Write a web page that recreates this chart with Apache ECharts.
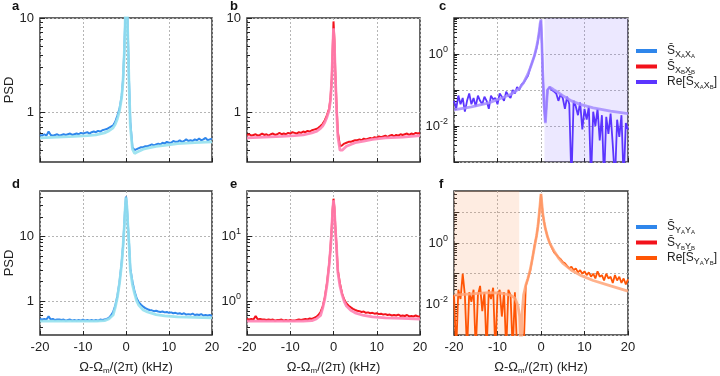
<!DOCTYPE html>
<html>
<head>
<meta charset="utf-8">
<script src="https://cdn.jsdelivr.net/npm/echarts@6/dist/echarts.min.js"></script>
<style>
  html, body { margin: 0; background: #fff; }
  #chart { width: 720px; height: 376px; }
</style>
</head>
<body>
<div id="chart"></div>
<script>
// frequency offsets (kHz) of the measured spectra
const xData = [
  -20, -19.5, -19, -18.5, -18, -17.5, -17, -16.5, -16, -15.5, -15, -14.5, -14, -13.5, -13, -12.5, -12, -11.5,
  -11, -10.5, -10, -9.5, -9, -8.5, -8, -7.5, -7, -6.5, -6, -5.5, -5, -4.5, -4, -3.5, -3,
  -2.5, -2, -1.5, -1, -0.7, -0.4, -0.2, 0, 0.2, 0.4, 0.7, 1, 1.5, 2, 2.5,
  3, 3.5, 4, 4.5, 5, 5.5, 6, 6.5, 7, 7.5, 8, 8.5, 9, 9.5, 10, 10.5, 11, 11.5, 12, 12.5,
  13, 13.5, 14, 14.5, 15, 15.5, 16, 16.5, 17, 17.5, 18, 18.5, 19, 19.5, 20
];
// frequency offsets (kHz) of the model curves
const xFit = [-20, -16, -12, -9, -7, -5, -4, -3, -2.5, -2, -1.5, -1, -0.7, -0.4, -0.2, 0, 0.2, 0.4, 0.7, 1, 1.5, 2, 2.5, 3, 4, 5, 7, 9, 12, 16, 20];
const xFitF = [-20, -16, -12, -9, -7, -6, -5.3, -4.9, -4.6, -4.3, -4, -3.5, -3, -2.5, -2, -1.5, -1, -0.7, -0.4, -0.2, 0, 0.2, 0.4, 0.7, 1, 1.5, 2, 3, 4, 5, 7, 9, 12, 16, 20];

// a: S_XAXA
const psdXAXA = [
  0.58, 0.57, 0.59, 0.57, 0.63, 0.58, 0.57, 0.58, 0.59, 0.57, 0.58, 0.59, 0.58, 0.59, 0.60, 0.58, 0.59, 0.60,
  0.59, 0.61, 0.60, 0.61, 0.62, 0.60, 0.62, 0.63, 0.62, 0.64, 0.63, 0.65, 0.66, 0.67, 0.69, 0.71, 0.73,
  0.8, 0.93, 1.1, 1.5, 2.2, 4.5, 9, 30, 18, 8, 2.2, 0.8, 0.43, 0.40, 0.41,
  0.42, 0.43, 0.43, 0.44, 0.44, 0.45, 0.46, 0.45, 0.46, 0.47, 0.46, 0.48, 0.47, 0.49, 0.48, 0.48, 0.50, 0.49, 0.49, 0.51,
  0.49, 0.50, 0.52, 0.50, 0.51, 0.50, 0.52, 0.51, 0.53, 0.51, 0.52, 0.54, 0.51, 0.52, 0.53
];
const fitXAXA = [0.54, 0.55, 0.56, 0.57, 0.58, 0.61, 0.64, 0.69, 0.75, 0.86, 1.05, 1.45, 2.1, 4.2, 8.5, 30, 16, 7, 2, 0.72, 0.41, 0.37, 0.38, 0.39, 0.41, 0.42, 0.44, 0.45, 0.47, 0.48, 0.49];

// b: S_XBXB
const psdXBXB = [
  0.58, 0.59, 0.57, 0.58, 0.59, 0.57, 0.58, 0.60, 0.58, 0.59, 0.57, 0.59, 0.60, 0.58, 0.59, 0.61, 0.59, 0.60,
  0.59, 0.61, 0.60, 0.62, 0.61, 0.60, 0.62, 0.61, 0.63, 0.62, 0.64, 0.63, 0.65, 0.66, 0.67, 0.69, 0.72,
  0.76, 0.83, 0.94, 1.1, 1.4, 2.3, 4.5, 9.2, 6, 2.8, 1.2, 0.62, 0.44, 0.45, 0.47,
  0.48, 0.49, 0.49, 0.50, 0.51, 0.51, 0.52, 0.51, 0.53, 0.52, 0.53, 0.54, 0.53, 0.55, 0.54, 0.56, 0.55, 0.56, 0.57, 0.55,
  0.57, 0.58, 0.56, 0.58, 0.57, 0.59, 0.58, 0.59, 0.60, 0.58, 0.60, 0.59, 0.61, 0.60, 0.61
];
const fitXBXB = [0.54, 0.55, 0.56, 0.57, 0.58, 0.61, 0.63, 0.68, 0.72, 0.79, 0.9, 1.06, 1.35, 2.2, 4.2, 7.8, 5.3, 2.6, 1.1, 0.56, 0.40, 0.40, 0.42, 0.44, 0.46, 0.48, 0.50, 0.52, 0.54, 0.55, 0.57];

// c: Re[S_XAXB]  (values below 1e-3 stand for negative points)
const psdReX = [
  0.05, 0.03, 0.07, 0.04, 0.06, 0.025, 0.05, 0.08, 0.04, 0.06, 0.035, 0.07, 0.05, 0.04, 0.065, 0.05, 0.03, 0.07,
  0.055, 0.06, 0.04, 0.08, 0.065, 0.05, 0.09, 0.07, 0.06, 0.1, 0.08, 0.12, 0.1, 0.14, 0.16, 0.2, 0.25,
  0.4, 0.6, 0.9, 1.5, 2.3, 4, 6.5, 8.5, 2, 0.3, 0.04, 0.013, 0.1, 0.12, 0.1,
  0.09, 0.08, 0.05, 0.075, 0.06, 0.03, 0.065, 0.04, 0.0003, 0.05, 0.035, 0.02, 0.045, 0.008, 0.03, 0.015, 0.035, 0.0003, 0.025, 0.01,
  0.03, 0.004, 0.02, 0.0003, 0.018, 0.006, 0.022, 0.003, 0.0003, 0.015, 0.005, 0.02, 0.0003, 0.012, 0.008
];
const fitReX = [0.028, 0.034, 0.044, 0.06, 0.075, 0.11, 0.16, 0.28, 0.4, 0.6, 0.9, 1.6, 2.5, 4.3, 7, 9, 2, 0.3, 0.04, 0.012, 0.1, 0.12, 0.11, 0.1, 0.085, 0.07, 0.05, 0.04, 0.032, 0.026, 0.022];

// d: S_YAYA
const psdYAYA = [
  0.53, 0.52, 0.53, 0.52, 0.58, 0.52, 0.53, 0.51, 0.52, 0.52, 0.51, 0.52, 0.50, 0.51, 0.52, 0.50, 0.51, 0.50,
  0.51, 0.50, 0.52, 0.50, 0.51, 0.50, 0.51, 0.50, 0.51, 0.50, 0.52, 0.51, 0.52, 0.53, 0.55, 0.6, 0.68,
  0.85, 1.2, 2, 4, 7, 15, 28, 41, 30, 17, 8, 3.2, 2, 1.4, 1.1,
  0.95, 0.88, 0.82, 0.78, 0.75, 0.73, 0.72, 0.70, 0.71, 0.69, 0.68, 0.69, 0.67, 0.68, 0.66, 0.67, 0.65, 0.66, 0.64, 0.65,
  0.63, 0.65, 0.62, 0.63, 0.62, 0.64, 0.61, 0.62, 0.61, 0.63, 0.60, 0.61, 0.60, 0.61, 0.59
];
const fitYAYA = [0.49, 0.49, 0.49, 0.49, 0.49, 0.5, 0.53, 0.61, 0.8, 1.15, 1.9, 3.8, 6.8, 14, 26, 40, 29, 16, 7.5, 3.0, 1.8, 1.3, 1.0, 0.86, 0.73, 0.68, 0.62, 0.59, 0.57, 0.56, 0.55];

// e: S_YBYB
const psdYBYB = [
  0.53, 0.52, 0.53, 0.52, 0.59, 0.52, 0.53, 0.52, 0.52, 0.51, 0.52, 0.51, 0.52, 0.50, 0.51, 0.51, 0.52, 0.50,
  0.51, 0.50, 0.51, 0.50, 0.50, 0.51, 0.52, 0.51, 0.52, 0.53, 0.52, 0.54, 0.53, 0.55, 0.57, 0.61, 0.68,
  0.82, 1.15, 1.9, 3.8, 6.5, 14, 26, 38, 28, 15, 7, 3, 1.85, 1.3, 1.05,
  0.92, 0.85, 0.80, 0.76, 0.73, 0.71, 0.70, 0.68, 0.69, 0.66, 0.67, 0.65, 0.66, 0.64, 0.65, 0.63, 0.64, 0.62, 0.63, 0.61,
  0.62, 0.60, 0.61, 0.60, 0.62, 0.59, 0.60, 0.59, 0.61, 0.58, 0.59, 0.58, 0.60, 0.58, 0.58
];
const fitYBYB = [0.49, 0.49, 0.49, 0.49, 0.49, 0.5, 0.53, 0.6, 0.78, 1.1, 1.8, 3.6, 6.3, 13, 24, 36, 26, 14, 6.8, 2.8, 1.7, 1.25, 0.98, 0.84, 0.72, 0.66, 0.6, 0.57, 0.55, 0.54, 0.53];

// f: Re[S_YAYB]
const psdReY = [
  0.02, 0.0003, 0.03, 0.015, 0.1, 0.02, 0.0003, 0.025, 0.012, 0.03, 0.0003, 0.02, 0.04, 0.006, 0.025, 0.0003, 0.03, 0.015,
  0.035, 0.0003, 0.02, 0.03, 0.004, 0.025, 0.0003, 0.03, 0.02, 0.0003, 0.025, 0.0003, 0.0003, 0.0003, 0.0003, 0.04, 0.07,
  0.12, 0.3, 0.8, 1.8, 3.5, 9, 18, 40, 18, 9, 5, 3, 1.6, 1.0, 0.7,
  0.5, 0.42, 0.35, 0.3, 0.24, 0.22, 0.18, 0.15, 0.17, 0.13, 0.15, 0.11, 0.13, 0.1, 0.12, 0.09, 0.11, 0.08, 0.1, 0.07,
  0.12, 0.08, 0.09, 0.06, 0.1, 0.07, 0.08, 0.05, 0.09, 0.06, 0.08, 0.05, 0.07, 0.045, 0.065
];
const fitReY = [0.02, 0.022, 0.024, 0.023, 0.02, 0.016, 0.009, 0.004, 0.0003, 0.006, 0.02, 0.042, 0.07, 0.13, 0.3, 0.75, 1.8, 3.6, 9.5, 19, 40, 19, 9.5, 5, 3, 1.6, 1.0, 0.55, 0.33, 0.22, 0.13, 0.09, 0.06, 0.04, 0.027];

// shaded bands (kHz)
const bandC = [0.8, 20];
const bandF = [-20, -5];

// axis ranges and ticks
const yRangeAB = [0.3, 10];
const yRangeDE = [0.3, 50];
const yRangeC = [0.001, 10];
const yRangeF = [0.001, 50];
const majorAB = [1, 10];
const majorDE = [1, 10];
const majorC = [0.001, 0.01, 0.1, 1, 10];
const majorF = [0.001, 0.01, 0.1, 1, 10];
const labelsCF = [0.01, 1];
const minorAB = [0.4, 0.5, 0.6, 0.7, 0.8, 0.9, 2, 3, 4, 5, 6, 7, 8, 9];
const minorDE = [0.4, 0.5, 0.6, 0.7, 0.8, 0.9, 2, 3, 4, 5, 6, 7, 8, 9, 20, 30, 40];
const minorC = [0.002, 0.003, 0.004, 0.005, 0.006, 0.007, 0.008, 0.009, 0.02, 0.03, 0.04, 0.05, 0.06, 0.07, 0.08, 0.09,
  0.2, 0.3, 0.4, 0.5, 0.6, 0.7, 0.8, 0.9, 2, 3, 4, 5, 6, 7, 8, 9];
const minorF = minorC.concat([20, 30, 40]);

const FONT = "'Liberation Sans', Arial, sans-serif";
const TXT = "#222";

const chartDom = document.getElementById("chart");
const myChart = echarts.init(chartDom, null, { renderer: "canvas" });

const panels = [
  { left: 40, top: 18, width: 172, height: 144, range: yRangeAB, major: majorAB, labels: majorAB, minor: minorAB, sup: false, psd: true, bottom: false },
  { left: 247, top: 18, width: 173, height: 144, range: yRangeAB, major: majorAB, labels: majorAB, minor: minorAB, sup: false, psd: false, bottom: false },
  { left: 454, top: 18, width: 174, height: 144, range: yRangeC, major: majorC, labels: labelsCF, minor: minorC, sup: true, psd: false, bottom: false },
  { left: 40, top: 191, width: 172, height: 145, range: yRangeDE, major: majorDE, labels: majorDE, minor: minorDE, sup: false, psd: true, bottom: true },
  { left: 247, top: 191, width: 173, height: 145, range: yRangeDE, major: majorDE, labels: majorDE, minor: minorDE, sup: true, psd: false, bottom: true },
  { left: 454, top: 191, width: 174, height: 145, range: yRangeF, major: majorF, labels: labelsCF, minor: minorF, sup: true, psd: false, bottom: true },
];

const grid = panels.map((p) => ({
  left: p.left, top: p.top, width: p.width, height: p.height,
  show: true, borderColor: "#333", borderWidth: 1.5, backgroundColor: "transparent",
}));

const dotted = { show: true, lineStyle: { color: "#b5b5b5", type: [2, 2], width: 1 } };

const xAxis = panels.map((p, i) => ({
  type: "value", gridIndex: i, min: -20, max: 20, interval: 10,
  axisLine: { show: false, onZero: false },
  axisTick: { show: true, inside: true, length: 4, lineStyle: { color: TXT } },
  axisLabel: { show: p.bottom, color: TXT, fontSize: 13, fontFamily: FONT, margin: 6 },
  splitLine: dotted,
  name: p.bottom ? "{t|Ω-Ω}{m|m}{t|/(2π) (kHz)}" : "",
  nameLocation: "middle", nameGap: 25,
  nameTextStyle: {
    color: TXT, fontFamily: FONT,
    rich: {
      t: { fontSize: 13, fontFamily: FONT, color: TXT },
      m: { fontSize: 8, padding: [7, 0, 0, 0], fontFamily: FONT, color: TXT },
    },
  },
}));

const yAxis = [];
panels.forEach((p, i) => {
  yAxis.push({
    type: "log", logBase: 10, gridIndex: i, min: p.range[0], max: p.range[1], position: "left",
    axisLine: { show: false, onZero: false },
    axisTick: { show: true, inside: true, length: 5, customValues: p.major, lineStyle: { color: TXT } },
    axisLabel: {
      color: TXT, fontSize: 13, fontFamily: FONT, margin: 6, customValues: p.labels,
      formatter: (v) => {
        if (!p.sup) return String(Math.round(v));
        const e = Math.round(Math.log10(v));
        return "{b|10}{s|" + e + "}";
      },
      rich: {
        b: { fontSize: 13, fontFamily: FONT, color: TXT },
        s: { fontSize: 9, padding: [0, 0, 9, 0], fontFamily: FONT, color: TXT },
      },
    },
    splitLine: dotted,
    name: p.psd ? "PSD" : "",
    nameLocation: "middle", nameGap: 24,
    nameTextStyle: { color: TXT, fontSize: 13, fontFamily: FONT },
  });
  // minor ticks
  yAxis.push({
    type: "log", logBase: 10, gridIndex: i, min: p.range[0], max: p.range[1], position: "left", offset: 0,
    axisLine: { show: false, onZero: false },
    axisTick: { show: true, inside: true, length: 3, customValues: p.minor, lineStyle: { color: TXT } },
    axisLabel: { show: false },
    splitLine: { show: false },
  });
});

function pairs(xs, ys) {
  return xs.map((x, i) => [x, ys[i]]);
}

function line(name, gi, xs, ys, color, width, z) {
  return {
    name, type: "line", xAxisIndex: gi, yAxisIndex: gi * 2,
    data: pairs(xs, ys), symbol: "none", showSymbol: false, clip: true,
    lineStyle: { color, width }, itemStyle: { color }, z, silent: true,
  };
}

const dataSeries = [
  line("xaxa", 0, xData, psdXAXA, "#2f86eb", 2, 2),
  line("xbxb", 1, xData, psdXBXB, "#f2121b", 2, 2),
  line("rexab", 2, xData, psdReX, "#5b35ff", 1.8, 2),
  line("yaya", 3, xData, psdYAYA, "#2f86eb", 2, 2),
  line("ybyb", 4, xData, psdYBYB, "#f2121b", 2, 2),
  line("reyab", 5, xData, psdReY, "#ff5505", 1.8, 2),
];
dataSeries[2].markArea = {
  silent: true, itemStyle: { color: "rgba(120,90,255,0.14)" }, label: { show: false },
  data: [[{ xAxis: bandC[0] }, { xAxis: bandC[1] }]],
};
dataSeries[5].markArea = {
  silent: true, itemStyle: { color: "rgba(250,140,80,0.17)" }, label: { show: false },
  data: [[{ xAxis: bandF[0] }, { xAxis: bandF[1] }]],
};

const fitSeries = [
  line("fitXAXA", 0, xFit, fitXAXA, "rgba(150,225,238,0.9)", 2.8, 3),
  line("fitXBXB", 1, xFit, fitXBXB, "rgba(255,130,180,0.9)", 2.8, 3),
  line("fitReX", 2, xFit, fitReX, "rgba(165,140,255,0.85)", 2.8, 3),
  line("fitYAYA", 3, xFit, fitYAYA, "rgba(150,225,238,0.9)", 2.8, 3),
  line("fitYBYB", 4, xFit, fitYBYB, "rgba(255,130,180,0.9)", 2.8, 3),
  line("fitReY", 5, xFitF, fitReY, "rgba(255,165,120,0.85)", 2.8, 3),
];

const legendNames = {
  xaxa: "{s0|S̄}{sub|X}{ss|A}{sub|X}{ss|A}",
  xbxb: "{s0|S̄}{sub|X}{ss|B}{sub|X}{ss|B}",
  rexab: "{n0|Re[}{s|S̄}{sub|X}{ss|A}{sub|X}{ss|B}{n|]}",
  yaya: "{s0|S̄}{sub|Y}{ss|A}{sub|Y}{ss|A}",
  ybyb: "{s0|S̄}{sub|Y}{ss|B}{sub|Y}{ss|B}",
  reyab: "{n0|Re[}{s|S̄}{sub|Y}{ss|A}{sub|Y}{ss|B}{n|]}",
};
// every token gets the same box height (18) so the subscripts only move by their padding
const legendRich = {
  s0: { fontSize: 12, height: 14, padding: [2, 0, 2, 5], fontFamily: FONT, color: TXT },
  n0: { fontSize: 12, height: 14, padding: [2, 0, 2, 5], fontFamily: FONT, color: TXT },
  s: { fontSize: 12, height: 14, padding: [2, 0, 2, 0], fontFamily: FONT, color: TXT },
  n: { fontSize: 12, height: 14, padding: [2, 0, 2, 0], fontFamily: FONT, color: TXT },
  sub: { fontSize: 9, height: 10, padding: [8, 0, 0, 0], fontFamily: FONT, color: TXT },
  ss: { fontSize: 6, height: 7, padding: [11, 0, 0, 0], fontFamily: FONT, color: TXT },
};

function legend(top, names) {
  return {
    left: 631, top, orient: "vertical", icon: "rect", itemWidth: 21, itemHeight: 4, itemGap: 1,
    selectedMode: false, data: names,
    formatter: (n) => legendNames[n],
    textStyle: { fontFamily: FONT, color: TXT, rich: legendRich },
  };
}

const letters = [
  ["a", 12, 0], ["b", 230, 0], ["c", 439, 0],
  ["d", 12, 178], ["e", 230, 178], ["f", 439, 178],
];

const option = {
  animation: false,
  backgroundColor: "#fff",
  grid, xAxis, yAxis,
  legend: [legend(40, ["xaxa", "xbxb", "rexab"]), legend(216, ["yaya", "ybyb", "reyab"])],
  graphic: letters.map(([t, x, y]) => ({
    type: "text", left: x, top: y,
    style: { text: t, font: "bold 13px " + FONT, fill: "#111" },
  })),
  series: dataSeries.concat(fitSeries),
};

myChart.setOption(option);
</script>
</body>
</html>
